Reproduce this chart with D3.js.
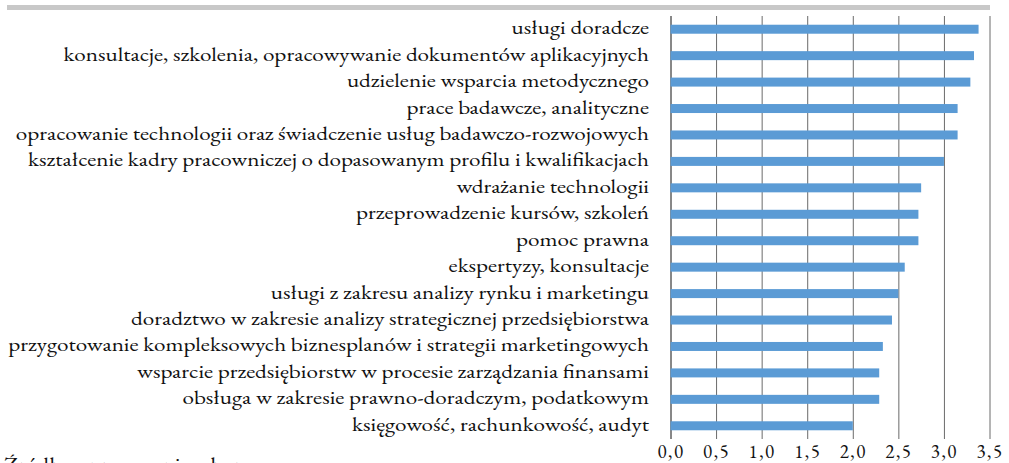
<!DOCTYPE html>
<html><head><meta charset="utf-8">
<script src="https://cdn.jsdelivr.net/npm/d3@7"></script>
<style>
html,body{margin:0;padding:0;background:#fff;}
svg{display:block;}
</style></head>
<body>
<svg id="chart" width="1009" height="463"></svg>
<script>
const categories = [
  "usługi doradcze",
  "konsultacje, szkolenia, opracowywanie dokumentów aplikacyjnych",
  "udzielenie wsparcia metodycznego",
  "prace badawcze, analityczne",
  "opracowanie technologii oraz świadczenie usług badawczo-rozwojowych",
  "kształcenie kadry pracowniczej o dopasowanym profilu i kwalifikacjach",
  "wdrażanie technologii",
  "przeprowadzenie kursów, szkoleń",
  "pomoc prawna",
  "ekspertyzy, konsultacje",
  "usługi z zakresu analizy rynku i marketingu",
  "doradztwo w zakresie analizy strategicznej przedsiębiorstwa",
  "przygotowanie kompleksowych biznesplanów i strategii marketingowych",
  "wsparcie przedsiębiorstw w procesie zarządzania finansami",
  "obsługa w zakresie prawno-doradczym, podatkowym",
  "księgowość, rachunkowość, audyt"
];
const values = [3.38, 3.33, 3.29, 3.15, 3.15, 3.00, 2.75, 2.72, 2.72, 2.57, 2.50, 2.43, 2.33, 2.29, 2.29, 2.00];
const tickValues = [0, 0.5, 1, 1.5, 2, 2.5, 3, 3.5];
const sourceText = "Źródło: opracowanie własne";

const FONT = "'EB Garamond', 'Liberation Serif', serif";
const svg = d3.select("#chart");
const plotTop = 16, plotBottom = 439;
const x = d3.scaleLinear().domain([0, 3.5]).range([670.5, 989.5]);
const y = d3.scaleBand().domain(categories).range([plotTop, plotBottom]).paddingInner(0.66).paddingOuter(0.33);

// header rule
svg.append("rect").attr("x", 7).attr("y", 5).attr("width", 983).attr("height", 5).attr("fill", "#c8c8c8");

// gridlines + tick labels
const fmt = d => d3.format(".1f")(d).replace(".", ",");
const gAxis = svg.append("g").attr("transform", `translate(0,${plotBottom})`)
  .call(d3.axisBottom(x).tickValues(tickValues).tickFormat(fmt).tickSize(-(plotBottom - plotTop)).tickSizeOuter(0));
gAxis.attr("font-family", null).attr("font-size", null);
gAxis.select(".domain").remove();
gAxis.selectAll(".tick line").attr("stroke", (d) => d === 0 ? "#111" : "#6a6a6a").attr("stroke-width", 1);
gAxis.selectAll(".tick text").attr("dy", null).attr("y", 19)
  .style("font-family", FONT).style("font-size", "19px").style("fill", "#111")
  .style("font-variant-numeric", "lining-nums").style("font-feature-settings", "'lnum' 1")
  .style("letter-spacing", "1.5px");

// bars
svg.append("g").selectAll("rect").data(values).join("rect")
  .attr("x", x(0))
  .attr("y", (d, i) => y(categories[i]))
  .attr("width", d => x(d) - x(0))
  .attr("height", y.bandwidth())
  .attr("fill", "#5b9bd5");

// category labels
const gl = svg.append("g");
const labels = gl.selectAll("text").data(categories).join("text")
  .attr("x", 0)
  .attr("y", 0)
  .attr("text-anchor", "end")
  .style("font-family", FONT)
  .style("font-size", "19px")
  .style("fill", "#111")
  .text(d => d);
const refNode = labels.filter(d => d === categories[1]).node();
const w = refNode.getComputedTextLength();
const sx = Math.max(0.8, Math.min(1.4, 586 / w));
labels.attr("transform", d => `translate(649,${y(d) + y.bandwidth() / 2 + 5}) scale(${sx},1)`);

// source (cut off at bottom, as in the reference)
svg.append("text").attr("x", 4 / sx).attr("y", 471)
  .style("font-family", FONT).style("font-size", "19px").style("fill", "#111")
  .attr("transform", `scale(${sx},1)`)
  .text(sourceText);
</script>
</body></html>
